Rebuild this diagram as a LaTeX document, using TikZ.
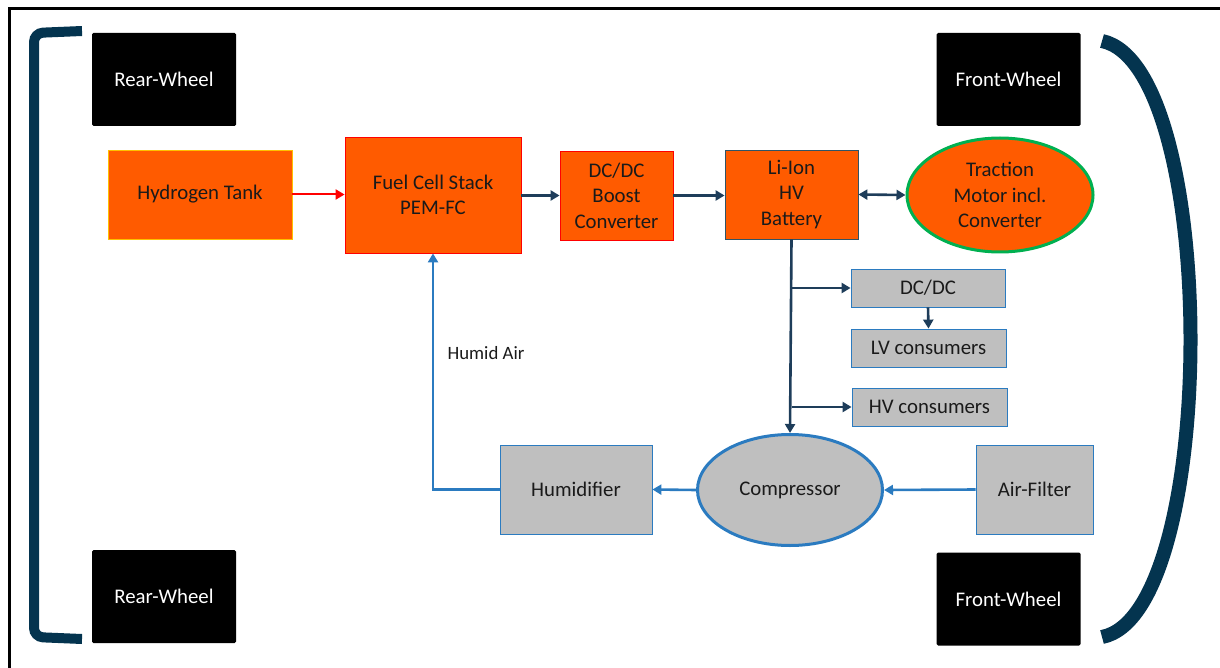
\documentclass[tikz,border=0pt]{standalone}
\usepackage{fontspec}
\setmainfont{Carlito}
\usetikzlibrary{arrows.meta,shapes.geometric}
\definecolor{orng}{HTML}{FF5B00}
\definecolor{brk}{HTML}{04344F}
\definecolor{conn}{HTML}{1E3D5A}
\definecolor{blu}{HTML}{2B7BC0}
\definecolor{gry}{HTML}{BFBFBF}
\definecolor{grn}{HTML}{00B050}
\definecolor{ylw}{HTML}{FFC000}
\definecolor{tl}{HTML}{2F5467}
\definecolor{dtxt}{HTML}{1A1A1A}
\tikzset{
  txt/.style={font=\fontsize{20.8}{25.5}\selectfont, align=center, inner sep=0pt, text=dtxt},
  wheel/.style={txt, fill=black, text=white, rounded corners=1.5, minimum width=144, minimum height=93},
  obox/.style={txt, fill=orng, draw=red, line width=0.8},
  gbox/.style={txt, fill=gry, draw=blu, line width=0.8},
  tip/.style={Triangle[length=9,width=10]},
  carr/.style={draw=conn, line width=2.6, -{Triangle[length=9,width=10]}},
  barr/.style={draw=blu, line width=2.6, -{Triangle[length=9,width=10]}},
}
\begin{document}
\begin{tikzpicture}[x=1pt,y=-1pt]
\useasboundingbox (0,0) rectangle (1220,668);
% frame
\draw[line width=3] (1222,9) -- (9,9) -- (9,670);
% brackets
\draw[brk, line width=10, rounded corners=9] (82,31) -- (34,33) -- (34,637) -- (82,639);
\draw[brk, line width=14] (1102,41) .. controls (1220,66) and (1220,614) .. (1102,637);
% wheels
\node[wheel] (rw1) at (164,79.5) {Rear-Wheel};
\node[wheel] (rw2) at (164,596.5) {Rear-Wheel};
\node[wheel] (fw1) at (1008.5,79.5) {Front-Wheel};
\node[wheel] (fw2) at (1008.5,599) {Front-Wheel};
% orange row
\node[obox, draw=ylw, minimum width=184, minimum height=89] (h2) at (200,194.5) {Hydrogen Tank};
\node[obox, minimum width=176, minimum height=116] (fc) at (433,195) {Fuel Cell Stack\\PEM-FC};
\node[obox, minimum width=113, minimum height=89] (dc) at (616.5,195.5) {DC/DC\\Boost\\Converter};
\node[obox, draw=tl, minimum width=133, minimum height=89] (bat) at (791.5,194.5) {Li-Ion\\HV\\Battery};
\node[txt, ellipse, fill=orng, draw=grn, line width=3, minimum width=186, minimum height=114] (tm) at (1000,195) {Traction\\Motor incl.\\Converter};
% gray boxes
\node[gbox, minimum width=154, minimum height=38] (dc2) at (928,288) {DC/DC};
\node[gbox, minimum width=155, minimum height=38] (lv) at (928.5,348) {LV consumers};
\node[gbox, minimum width=155, minimum height=38] (hv) at (929.5,407) {HV consumers};
\node[txt, ellipse, fill=gry, draw=blu, line width=3, minimum width=185, minimum height=111] (cp) at (790,490) {Compressor};
\node[gbox, minimum width=152, minimum height=89] (hu) at (576,489.5) {Humidifier};
\node[gbox, minimum width=117, minimum height=89] (af) at (1034.5,489.5) {Air-Filter};
\node[txt, font=\fontsize{18.8}{22}\selectfont] (ha) at (486,353) {Humid Air};
% connectors
\draw[draw=red, line width=2, -{Triangle[length=9,width=10]}, color=red] (h2.east) -- (fc.west |- h2.east);
\draw[carr] (fc.east |- dc.west) -- (dc.west);
\draw[carr] (dc.east) -- (bat.west |- dc.east);
\draw[draw=conn, line width=2.6, {Triangle[length=9,width=10]}-{Triangle[length=9,width=10]}] (bat.east) -- (tm.west);
\draw[carr] (bat.south) -- (cp.north);
\coordinate (j1) at (bat.south |- dc2.west);
\coordinate (j2) at (bat.south |- hv.west);
\draw[carr] (j1) -- (dc2.west);
\draw[carr] (j2) -- (hv.west);
\draw[carr] (dc2.south) -- (lv.north);
\draw[barr] (cp.west) -- (hu.east);
\draw[barr] (af.west) -- (cp.east);
\draw[barr] (hu.west) -- (hu.west -| fc.south) -- (fc.south);
\end{tikzpicture}
\end{document}
